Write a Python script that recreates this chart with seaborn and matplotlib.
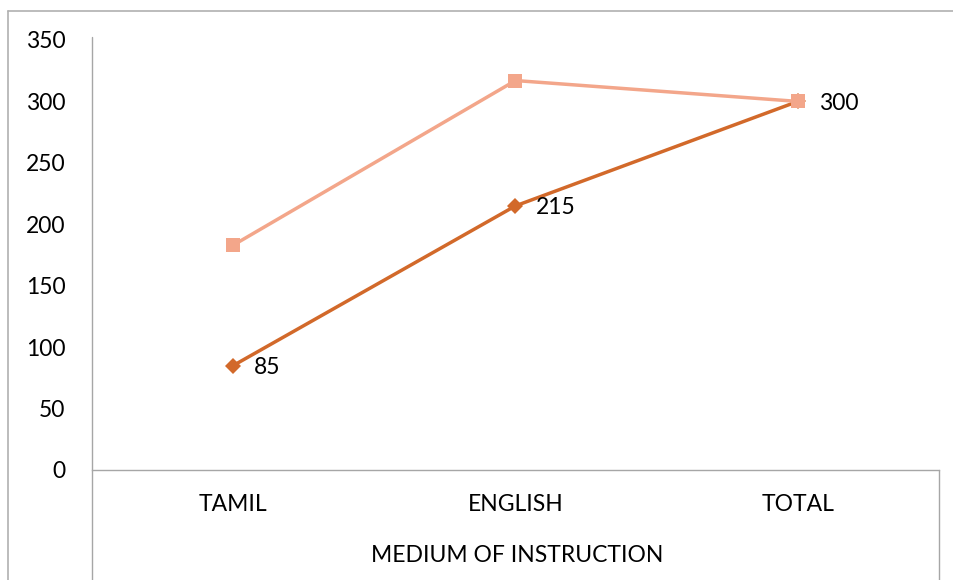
import pandas as pd
import matplotlib
matplotlib.use("Agg")
import matplotlib.pyplot as plt
from matplotlib.lines import Line2D
import seaborn as sns

# === Data ===
categories = ["TAMIL", "ENGLISH", "TOTAL"]
series_light = [183, 317, 300]   # salmon squares
series_dark = [85, 215, 300]     # orange diamonds, labelled
y_ticks = [0, 50, 100, 150, 200, 250, 300, 350]

df_light = pd.DataFrame({"medium": categories, "count": series_light})
df_dark = pd.DataFrame({"medium": categories, "count": series_dark})

sns.set_theme(style="white")
plt.rcParams["font.family"] = ["Lato", "DejaVu Sans"]

W, H = 954, 580
fig = plt.figure(figsize=(W / 100, H / 100), dpi=100)
ax = fig.add_axes([92 / W, 1 - 470 / H, (939 - 92) / W, (470 - 40) / H])

light = "#F3A68A"
dark = "#D2692A"
FS = 16.5

# dark first so the salmon square sits on top at TOTAL
sns.lineplot(data=df_dark, x="medium", y="count", ax=ax, color=dark,
             marker="D", markersize=8, markeredgewidth=0, linewidth=2.5, sort=False)
sns.lineplot(data=df_light, x="medium", y="count", ax=ax, color=light,
             marker="s", markersize=10, markeredgewidth=0, linewidth=2.5, sort=False)

# data labels on the dark series
for i, v in enumerate(series_dark):
    ax.annotate(str(v), (i, v), xytext=(15, -1.5), textcoords="offset points",
                ha="left", va="center", fontsize=FS, color="black")

ax.set_xlim(-0.5, 2.5)
ax.set_ylim(0, 350)
ax.set_yticks(y_ticks)
ax.tick_params(axis="y", labelsize=FS, pad=19, length=0, colors="black")
ax.tick_params(axis="x", labelsize=FS, pad=17, length=0, colors="black")
ax.set_xlabel("")
ax.set_ylabel("")

for s in ["top", "right", "left"]:
    ax.spines[s].set_visible(False)
ax.spines["bottom"].set_color("#A6A6A6")
ax.spines["bottom"].set_linewidth(1.0)

fig.text(517 / W, 1 - 555 / H, "MEDIUM OF INSTRUCTION", ha="center", va="center",
         fontsize=FS, color="black")

# axis/table borders and outer frame, in pixel coords
def px_line(x0, y0, x1, y1, color="#A6A6A6", lw=1.0):
    fig.add_artist(Line2D([x0 / W, x1 / W], [1 - y0 / H, 1 - y1 / H],
                          transform=fig.transFigure, color=color, linewidth=lw))

px_line(92, 37, 92, 580)
px_line(939, 470, 939, 580)
px_line(8, 11, 954, 11, color="#B0B0B0", lw=1.2)
px_line(8, 11, 8, 580, color="#B0B0B0", lw=1.2)

fig.savefig("out.png", dpi=100)
